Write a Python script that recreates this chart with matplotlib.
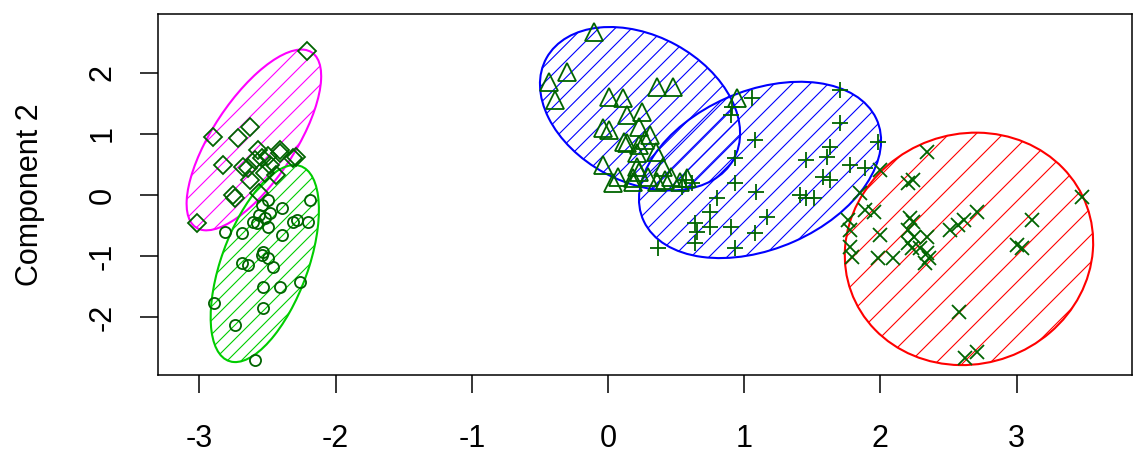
import numpy as np
import matplotlib

matplotlib.use("Agg")

import matplotlib.pyplot as plt
from matplotlib.collections import LineCollection
from matplotlib.patches import Ellipse

plt.rcParams["font.family"] = ["Liberation Sans", "DejaVu Sans"]
plt.rcParams["axes.unicode_minus"] = False

# observations on the first two components, one pair of lists per cluster
diamond_x = [-2.21, -2.90, -2.72, -2.63, -2.83, -2.68, -2.57, -2.50, -2.41, -2.41,
             -2.31, -2.29, -2.64, -2.52, -2.59, -2.48, -2.56, -2.75, -2.74, -3.02,
             -2.63, -2.44, -2.54]
diamond_y = [2.35, 0.95, 0.93, 1.11, 0.49, 0.46, 0.74, 0.64, 0.74, 0.69,
             0.60, 0.62, 0.44, 0.36, 0.57, 0.49, 0.03, 0.00, -0.05, -0.46,
             0.25, 0.33, 0.60]

circle_x = [-2.19, -2.39, -2.48, -2.56, -2.61, -2.50, -2.58, -2.81, -2.69, -2.39,
            -2.31, -2.28, -2.20, -2.53, -2.54, -2.50, -2.69, -2.64, -2.46, -2.53,
            -2.41, -2.26, -2.89, -2.53, -2.74, -2.59, -2.54, -2.50, -2.52]
circle_y = [-0.08, -0.21, -0.29, -0.33, -0.44, -0.52, -0.46, -0.60, -0.62, -0.65,
            -0.44, -0.41, -0.44, -0.93, -0.98, -1.03, -1.11, -1.14, -1.18, -1.50,
            -1.50, -1.42, -1.76, -1.85, -2.12, -2.70, -0.16, -0.08, -0.38]

triangle_x = [-0.10, -0.30, -0.43, -0.39, 0.36, 0.48, 0.01, 0.11, 0.14, 0.25,
              -0.04, 0.01, 0.23, 0.31, 0.14, 0.23, 0.27, 0.35, 0.21, -0.04,
              0.07, 0.21, 0.23, 0.29, 0.18, 0.36, 0.46, 0.04, 0.18, 0.40,
              0.42, 0.53, 0.58, 0.95, 0.12]
triangle_y = [2.66, 2.01, 1.85, 1.55, 1.76, 1.76, 1.60, 1.58, 1.31, 1.36,
              1.09, 1.06, 1.11, 0.98, 0.85, 0.82, 0.90, 0.70, 0.69, 0.49,
              0.29, 0.46, 0.38, 0.29, 0.28, 0.21, 0.29, 0.20, 0.21, 0.46,
              0.25, 0.21, 0.28, 1.58, 0.87]

plus_x = [1.70, 1.06, 0.91, 0.90, 1.70, 1.08, 1.98, 1.63, 0.93, 1.45,
          1.61, 1.78, 1.89, 1.58, 1.63, 0.57, 0.62, 0.54, 0.93, 1.09,
          1.41, 1.45, 1.51, 0.80, 0.75, 1.17, 0.64, 0.65, 0.90, 1.08,
          0.64, 0.37, 0.93, 0.75]
plus_y = [1.72, 1.58, 1.44, 1.31, 1.18, 0.90, 0.87, 0.78, 0.60, 0.57,
          0.62, 0.49, 0.44, 0.29, 0.25, 0.25, 0.20, 0.13, 0.20, 0.05,
          0.00, -0.05, -0.05, -0.05, -0.28, -0.36, -0.46, -0.60, -0.52, -0.62,
          -0.78, -0.87, -0.87, -0.52]

cross_x = [2.34, 2.20, 2.24, 2.00, 1.85, 1.89, 1.95, 1.76, 1.78, 2.00,
           2.22, 2.24, 2.20, 2.25, 2.34, 2.20, 2.23, 2.34, 2.36, 2.33,
           1.78, 1.79, 1.98, 2.09, 2.51, 2.57, 2.61, 2.71, 2.29, 3.48,
           3.11, 3.00, 3.04, 2.58, 2.71, 2.62]
cross_y = [0.70, 0.20, 0.25, 0.41, 0.03, -0.25, -0.28, -0.41, -0.57, -0.65,
           -0.38, -0.44, -0.57, -0.69, -0.69, -0.78, -0.87, -0.95, -1.03, -1.11,
           -0.85, -1.01, -1.03, -1.03, -0.57, -0.49, -0.41, -0.28, -0.87, -0.03,
           -0.41, -0.82, -0.87, -1.91, -2.57, -2.66]

# spanning ellipse of each cluster: centre, semi-axes, rotation in degrees
ell_cx = [-2.60, -2.52, 0.235, 1.116, 2.65]
ell_cy = [0.90, -1.12, 1.41, 0.41, -0.88]
ell_a = [1.52, 1.625, 1.36, 1.484, 1.90]
ell_b = [0.34, 0.33, 0.688, 0.814, 0.91]
ell_angle = [76.0, 82.0, 102.7, 73.3, 88.0]

ell_colors = ["#FF00FF", "#00CD00", "#0000FF", "#0000FF", "#FF0000"]
shade_step = [19.0, 14.0, 16.5, 18.0, 27.0]   # horizontal px between shading lines
point_col = "#006400"

fig = plt.figure(figsize=(11.36, 4.62), dpi=100)
ax = fig.add_axes([158 / 1136, 87 / 462, 974 / 1136, 361 / 462])
ax.set_xlim(-3.304, 3.847)
ax.set_ylim(-2.941, 2.958)


def shade_ellipse(ax, patch, step, color):
    """45-degree density lines (in device space) clipped to the ellipse."""
    t = np.linspace(0, 2 * np.pi, 300)
    verts = patch.get_patch_transform().transform(np.c_[np.cos(t), np.sin(t)])
    disp = ax.transData.transform(verts)
    d = disp[:, 0] - disp[:, 1]
    x0, x1 = disp[:, 0].min() - 5, disp[:, 0].max() + 5
    segs = []
    for c in np.arange(np.floor(d.min() / step) * step, d.max() + step, step):
        p = np.array([[x0, x0 - c], [x1, x1 - c]])
        segs.append(ax.transData.inverted().transform(p))
    lc = LineCollection(segs, colors=color, linewidths=0.8, zorder=2)
    lc.set_clip_path(patch)
    ax.add_collection(lc)


for cx, cy, a, b, ang, col, step in zip(ell_cx, ell_cy, ell_a, ell_b, ell_angle,
                                         ell_colors, shade_step):
    e = Ellipse((cx, cy), 2 * a, 2 * b, angle=ang, fill=False,
                edgecolor=col, lw=1.5, zorder=3)
    ax.add_patch(e)
    shade_ellipse(ax, e, step, col)

mk = dict(ls="none", mfc="none", mec=point_col, mew=1.3, zorder=4)
ax.plot(diamond_x, diamond_y, marker="D", ms=9.5, **mk)
ax.plot(circle_x, circle_y, marker="o", ms=8, **mk)
ax.plot(triangle_x, triangle_y, marker="^", ms=12.5, **mk)
ax.plot(plus_x, plus_y, marker="+", ms=12, **mk)
ax.plot(cross_x, cross_y, marker="x", ms=10.5, **mk)

ax.set_xticks(range(-3, 4))
ax.set_yticks(range(-2, 3))
ax.tick_params(direction="out", length=13, width=1.1, labelsize=22, color="black")
ax.tick_params(axis="x", pad=22)
ax.tick_params(axis="y", pad=16)
for lab in ax.get_yticklabels():
    lab.set_rotation(90)
    lab.set_va("center")
for s in ax.spines.values():
    s.set_linewidth(1.1)

ax.set_ylabel("Component 2", fontsize=22)
ax.yaxis.set_label_coords(-0.116, 0.5)

fig.savefig("out.png", dpi=100)
plt.close(fig)
